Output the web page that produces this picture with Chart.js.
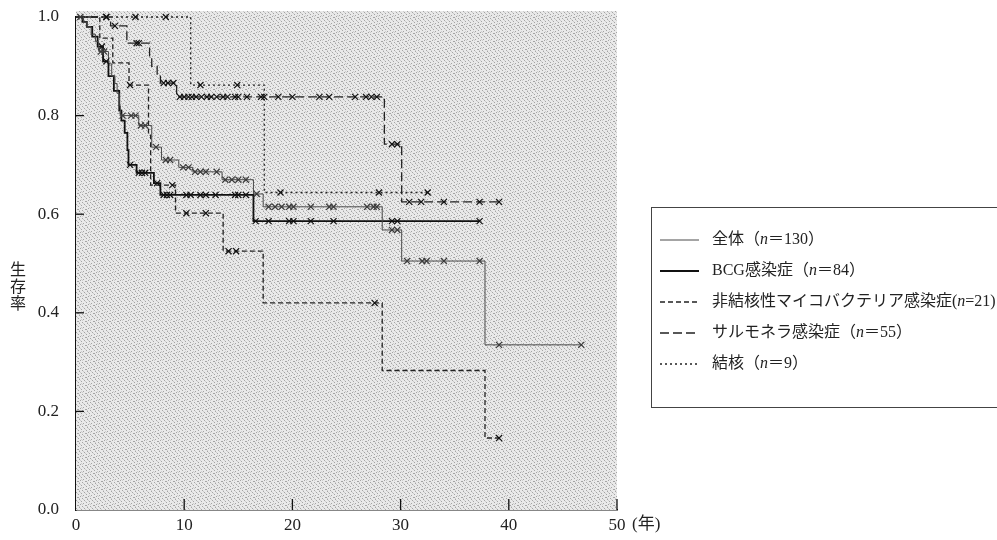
<!DOCTYPE html>
<html><head><meta charset="utf-8">
<script src="https://cdn.jsdelivr.net/npm/chart.js@4/dist/chart.umd.min.js"></script>
<style>html,body{margin:0;padding:0;background:#fff}#wrap{width:997px;height:540px;position:relative}</style>
</head><body><div id="wrap"><canvas id="c" width="997" height="540"></canvas></div>
<script>
// ---- data ----
const xTickValues = [0, 10, 20, 30, 40, 50];
const yTickValues = [0, 0.2, 0.4, 0.6, 0.8, 1.0];
const xUnitLabel = '(年)';
const yTitle = '生存率';
const legendLabels = ['全体（n＝130）', 'BCG感染症（n＝84）', '非結核性マイコバクテリア感染症(n=21)', 'サルモネラ感染症（n＝55）', '結核（n＝9）'];

// 全体 (n=130)
const allTimes = [0, 0.7, 1.0, 1.4, 1.8, 2.1, 3.0, 3.3, 3.6, 3.8, 4.0, 4.1, 5.8, 7.0, 7.9, 9.5, 10.8, 13.5, 16.4, 17.3, 28.3, 30.1, 37.8, 46.7];
const allSurv  = [1.0, 0.99, 0.98, 0.965, 0.95, 0.93, 0.905, 0.88, 0.865, 0.845, 0.82, 0.80, 0.78, 0.736, 0.71, 0.695, 0.686, 0.67, 0.641, 0.615, 0.568, 0.505, 0.335, 0.335];
const allCensor = [0.4, 2.3, 2.6, 4.3, 5.1, 5.5, 6.0, 6.4, 7.4, 8.3, 8.7, 9.9, 10.4, 11.0, 11.5, 12.0, 13.0, 13.8, 14.4, 15.0, 15.7, 16.7, 17.8, 18.4, 19.0, 19.7, 20.1, 21.7, 23.4, 23.8, 26.9, 27.5, 27.8, 29.2, 29.7, 30.6, 32.0, 32.4, 34.0, 37.3, 39.1, 46.7];

// BCG感染症 (n=84)
const bcgTimes = [0, 0.6, 1.0, 1.5, 2.0, 2.5, 3.0, 3.5, 4.0, 4.2, 4.5, 4.75, 4.85, 5.6, 7.2, 7.8, 16.4, 37.3];
const bcgSurv  = [1.0, 0.99, 0.98, 0.96, 0.94, 0.91, 0.88, 0.85, 0.81, 0.79, 0.765, 0.73, 0.70, 0.684, 0.663, 0.639, 0.586, 0.586];
const bcgCensor = [2.4, 2.8, 5.0, 5.8, 6.1, 6.4, 7.5, 8.1, 8.4, 8.7, 10.2, 10.6, 11.5, 12.0, 12.9, 14.7, 15.0, 15.7, 16.6, 17.8, 19.7, 20.1, 21.7, 23.8, 29.2, 29.7, 37.3];

// 非結核性マイコバクテリア感染症 (n=21)
const ntmTimes = [0, 2.2, 3.4, 4.9, 6.7, 6.9, 9.2, 13.6, 17.3, 28.3, 37.8, 39.1];
const ntmSurv  = [1.0, 0.957, 0.907, 0.862, 0.76, 0.659, 0.602, 0.525, 0.42, 0.283, 0.146, 0.146];
const ntmCensor = [5.0, 8.9, 10.2, 12.0, 14.1, 14.8, 27.6, 39.1];

// サルモネラ感染症 (n=55)
const salTimes = [0, 3.2, 4.7, 6.8, 7.0, 7.5, 7.8, 9.3, 28.5, 30.1, 39.1];
const salSurv  = [1.0, 0.982, 0.947, 0.92, 0.90, 0.88, 0.866, 0.838, 0.742, 0.625, 0.625];
const salCensor = [2.8, 3.6, 5.6, 5.8, 8.1, 8.5, 9.0, 9.6, 10.0, 10.4, 10.7, 11.1, 11.6, 12.1, 12.5, 13.0, 13.6, 14.0, 14.7, 15.0, 15.8, 17.1, 17.4, 18.7, 20.0, 22.5, 23.4, 25.8, 26.8, 27.3, 27.8, 29.2, 29.7, 30.8, 31.9, 34.0, 37.3, 39.1];

// 結核 (n=9)
const tbTimes = [0, 10.6, 17.4, 32.5];
const tbSurv  = [1.0, 0.862, 0.644, 0.644];
const tbCensor = [2.8, 5.5, 8.3, 11.5, 14.9, 18.9, 28.0, 32.5];

// ---- styles ----
const groups = [
  {times: allTimes, surv: allSurv, censor: allCensor, color: '#4a4a4a', width: 1, dash: []},
  {times: bcgTimes, surv: bcgSurv, censor: bcgCensor, color: '#111', width: 1.8, dash: []},
  {times: ntmTimes, surv: ntmSurv, censor: ntmCensor, color: '#222', width: 1.3, dash: [5, 3]},
  {times: salTimes, surv: salSurv, censor: salCensor, color: '#222', width: 1.3, dash: [9, 4]},
  {times: tbTimes, surv: tbSurv, censor: tbCensor, color: '#222', width: 1.3, dash: [2, 3]}
];

function stepValue(times, surv, t) {
  let v = surv[0];
  for (let i = 0; i < times.length; i++) { if (times[i] <= t) v = surv[i]; }
  return v;
}

const datasets = [];
groups.forEach((g, i) => {
  datasets.push({
    label: legendLabels[i],
    data: g.times.map((t, k) => ({x: t, y: g.surv[k]})),
    stepped: true,
    borderColor: g.color,
    borderWidth: g.width,
    borderDash: g.dash,
    pointRadius: 0,
    fill: false,
    clip: 8,
    order: 2
  });
});
groups.forEach((g, i) => {
  datasets.push({
    label: legendLabels[i] + ' censor',
    data: g.censor.map(t => ({x: t, y: stepValue(g.times, g.surv, t)})),
    showLine: false,
    pointStyle: 'crossRot',
    pointRadius: 4.3,
    pointBorderWidth: 1.2,
    pointBorderColor: i === 0 ? '#3a3a3a' : '#111',
    pointBackgroundColor: 'transparent',
    clip: 8,
    order: 1
  });
});

// light stipple pattern for plot background
function makePattern(ctx) {
  const pc = document.createElement('canvas');
  pc.width = 8; pc.height = 8;
  const p = pc.getContext('2d');
  p.fillStyle = '#e9e9e9'; p.fillRect(0, 0, 8, 8);
  p.fillStyle = '#a4a4a4';
  [[0,0],[5,1],[2,2],[7,3],[4,4],[1,5],[6,6],[3,7],[6,1]].forEach(([x, y]) => p.fillRect(x, y, 1, 1));
  p.fillStyle = '#cdcdcd';
  [[2,0],[7,2],[0,4],[5,5],[3,3],[1,7]].forEach(([x, y]) => p.fillRect(x, y, 1, 1));
  return ctx.createPattern(pc, 'repeat');
}

const serif = '"Liberation Serif", "Noto Sans CJK JP", serif';

const decor = {
  id: 'decor',
  beforeDatasetsDraw(chart) {
    const {ctx, chartArea: a, scales} = chart;
    ctx.save();
    ctx.fillStyle = makePattern(ctx);
    ctx.fillRect(a.left, a.top - 6, a.right - a.left, a.bottom - a.top + 6);
    // inward ticks
    ctx.strokeStyle = '#111'; ctx.lineWidth = 1.3;
    xTickValues.forEach(v => {
      if (v === 0) return;
      const x = scales.x.getPixelForValue(v);
      ctx.beginPath(); ctx.moveTo(x, a.bottom); ctx.lineTo(x, a.bottom - 11); ctx.stroke();
    });
    yTickValues.forEach(v => {
      if (v === 0) return;
      const y = scales.y.getPixelForValue(v);
      ctx.beginPath(); ctx.moveTo(a.left, y); ctx.lineTo(a.left + 8, y); ctx.stroke();
    });
    ctx.restore();
  },
  afterDraw(chart) {
    const {ctx, chartArea: a, scales} = chart;
    ctx.save();
    // x unit label
    ctx.fillStyle = '#222';
    ctx.font = '17px ' + serif;
    ctx.textBaseline = 'middle';
    ctx.textAlign = 'left';
    ctx.fillText(xUnitLabel, scales.x.getPixelForValue(50) + 15, a.bottom + 15);
    // y title stacked vertically
    ctx.font = '16px "Noto Sans CJK JP", sans-serif';
    ctx.textAlign = 'center';
    Array.from(yTitle).forEach((ch, i) => ctx.fillText(ch, 18, 269 + i * 17));
    // legend box
    const bx = 651, by = 207, bw = 360, bh = 200;
    ctx.strokeStyle = '#444'; ctx.lineWidth = 1;
    ctx.strokeRect(bx + 0.5, by + 0.5, bw, bh);
    legendLabels.forEach((lab, i) => {
      const g = groups[i];
      const y = 240 + i * 31;
      ctx.beginPath();
      ctx.setLineDash(g.dash);
      ctx.strokeStyle = g.color; ctx.lineWidth = g.width;
      ctx.moveTo(660, y); ctx.lineTo(699, y); ctx.stroke();
      ctx.setLineDash([]);
      let k = lab.indexOf('（n');
      if (k < 0) k = lab.indexOf('(n');
      k += 1;
      const parts = [[lab.slice(0, k), false], ['n', true], [lab.slice(k + 1), false]];
      let x = 712;
      ctx.fillStyle = '#222'; ctx.textAlign = 'left';
      parts.forEach(([s, it]) => {
        ctx.font = (it ? 'italic ' : '') + '16px ' + serif;
        ctx.fillText(s, x, y);
        x += ctx.measureText(s).width;
      });
    });
    ctx.restore();
  }
};

new Chart(document.getElementById('c'), {
  type: 'line',
  data: {datasets},
  plugins: [decor],
  options: {
    responsive: false,
    animation: false,
    layout: {padding: {top: 17, right: 380, left: 0, bottom: 0}},
    plugins: {legend: {display: false}, tooltip: {enabled: false}},
    scales: {
      x: {
        type: 'linear', min: 0, max: 50,
        afterBuildTicks: s => { s.ticks = xTickValues.map(v => ({value: v})); },
        afterFit: s => { s.height = 30; s.paddingLeft = 0; s.paddingRight = 0; },
        grid: {display: false, drawTicks: false},
        border: {display: true, color: '#111', width: 1.5},
        ticks: {padding: 5, color: '#222', font: {family: serif, size: 17}, maxRotation: 0}
      },
      y: {
        type: 'linear', min: 0, max: 1,
        afterBuildTicks: s => { s.ticks = yTickValues.map(v => ({value: v})); },
        afterFit: s => { s.width = 76; s.paddingTop = 0; s.paddingBottom = 0; },
        grid: {display: false, drawTicks: false},
        border: {display: true, color: '#111', width: 1.5},
        ticks: {padding: 17, color: '#222', font: {family: serif, size: 17}, callback: v => Number(v).toFixed(1)}
      }
    }
  }
});
</script></body></html>
